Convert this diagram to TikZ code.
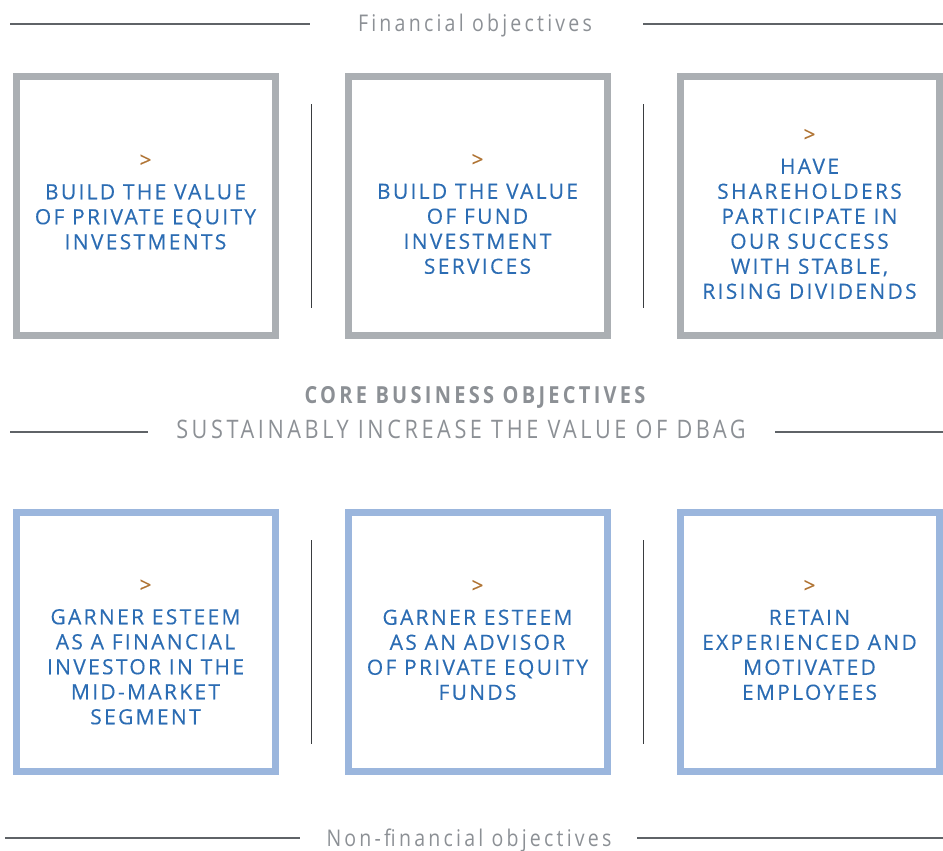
\documentclass[tikz,border=0pt]{standalone}
\usepackage{fontspec}
\setmainfont{Open Sans}
\newfontfamily\goalfont[LetterSpace=11,FakeBold=0.3]{Open Sans}
\newfontfamily\headfont[FakeStretch=0.85,LetterSpace=14]{Open Sans}
\usetikzlibrary{positioning,calc}

\definecolor{boxgray}{HTML}{ABAFB3}
\definecolor{boxblue}{HTML}{9BB6DD}
\definecolor{goalblue}{HTML}{2B6CB3}
\definecolor{markbrown}{HTML}{B07434}
\definecolor{headgray}{HTML}{8C9095}
\definecolor{rulegray}{HTML}{5F6367}
\definecolor{sepgray}{HTML}{3A3D40}

\begin{document}
\begin{tikzpicture}[x=1pt,y=-1pt,
    finbox/.style={draw=boxgray,line width=7pt,minimum width=259pt,
                   minimum height=259pt,inner sep=0pt},
    nonfinbox/.style={finbox,draw=boxblue},
    goal/.style={text=goalblue,align=center,inner sep=0pt,
                 font=\goalfont\fontsize{21}{25}\selectfont},
    sep/.style={draw=sepgray,line width=1.3pt},
    rule/.style={draw=rulegray,line width=1.3pt},
    head/.style={text=headgray,anchor=base,inner sep=0pt,
                 font=\headfont\fontsize{23}{25}\selectfont}]

  \useasboundingbox (0,0) rectangle (943,851);

  % financial objectives
  \node[head] (fin) at (475,32) {Financial objectives};
  \coordinate (finA) at (10,24);  \coordinate (finB) at (310,24);
  \coordinate (finC) at (643,24); \coordinate (finD) at (943,24);
  \draw[rule] (finA) -- (finB) (finC) -- (finD);

  \node[finbox] (f1) at (145.5,206) {};
  \node[finbox] (f2) [right=66pt of f1] {};
  \node[finbox] (f3) [right=66pt of f2] {};

  \node[goal] (g1) at ($(f1)+(0,-4)$)
    {\textcolor{markbrown}{>}\\[7pt]BUILD THE VALUE\\OF PRIVATE EQUITY\\INVESTMENTS};
  \node[goal] (g2) at ($(f2)+(0,8)$)
    {\textcolor{markbrown}{>}\\[7pt]BUILD THE VALUE\\OF FUND\\INVESTMENT\\SERVICES};
  \node[goal] (g3) at ($(f3)+(0,8)$)
    {\textcolor{markbrown}{>}\\[7pt]HAVE\\SHAREHOLDERS\\PARTICIPATE IN\\OUR SUCCESS\\WITH STABLE,\\RISING DIVIDENDS};

  \coordinate (s1) at ($(f1.east)!.5!(f2.west)$);
  \coordinate (s2) at ($(f2.east)!.5!(f3.west)$);
  \draw[sep] ($(s1)+(0,-102)$) -- ($(s1)+(0,102)$);
  \draw[sep] ($(s2)+(0,-102)$) -- ($(s2)+(0,102)$);

  % core objectives
  \node[head,font=\headfont\bfseries\fontsize{23.5}{25}\selectfont] (core) at (475,403)
    {CORE BUSINESS OBJECTIVES};
  \node[head,font=\headfont\fontsize{25.5}{27}\selectfont] (dbag) at (461,438)
    {SUSTAINABLY INCREASE THE VALUE OF DBAG};
  \coordinate (dbagA) at (10,432);  \coordinate (dbagB) at (148,432);
  \coordinate (dbagC) at (775,432); \coordinate (dbagD) at (943,432);
  \draw[rule] (dbagA) -- (dbagB) (dbagC) -- (dbagD);

  % non-financial objectives
  \node[nonfinbox] (n1) at (145.5,642) {};
  \node[nonfinbox] (n2) [right=66pt of n1] {};
  \node[nonfinbox] (n3) [right=66pt of n2] {};

  \node[goal] (h1) at ($(n1)+(0,10)$)
    {\textcolor{markbrown}{>}\\[7pt]GARNER ESTEEM\\AS A FINANCIAL\\INVESTOR IN THE\\MID-MARKET\\SEGMENT};
  \node[goal] (h2) at ($(n2)+(0,-2)$)
    {\textcolor{markbrown}{>}\\[7pt]GARNER ESTEEM\\AS AN ADVISOR\\OF PRIVATE EQUITY\\FUNDS};
  \node[goal] (h3) at ($(n3)+(0,-2)$)
    {\textcolor{markbrown}{>}\\[7pt]RETAIN\\EXPERIENCED AND\\MOTIVATED\\EMPLOYEES};

  \coordinate (s3) at ($(n1.east)!.5!(n2.west)$);
  \coordinate (s4) at ($(n2.east)!.5!(n3.west)$);
  \draw[sep] ($(s3)+(0,-102)$) -- ($(s3)+(0,102)$);
  \draw[sep] ($(s4)+(0,-102)$) -- ($(s4)+(0,102)$);

  \node[head] (nonfin) at (469,846) {Non-financial objectives};
  \coordinate (nonA) at (5,838);   \coordinate (nonB) at (300,838);
  \coordinate (nonC) at (637,838); \coordinate (nonD) at (943,838);
  \draw[rule] (nonA) -- (nonB) (nonC) -- (nonD);
\end{tikzpicture}
\end{document}
